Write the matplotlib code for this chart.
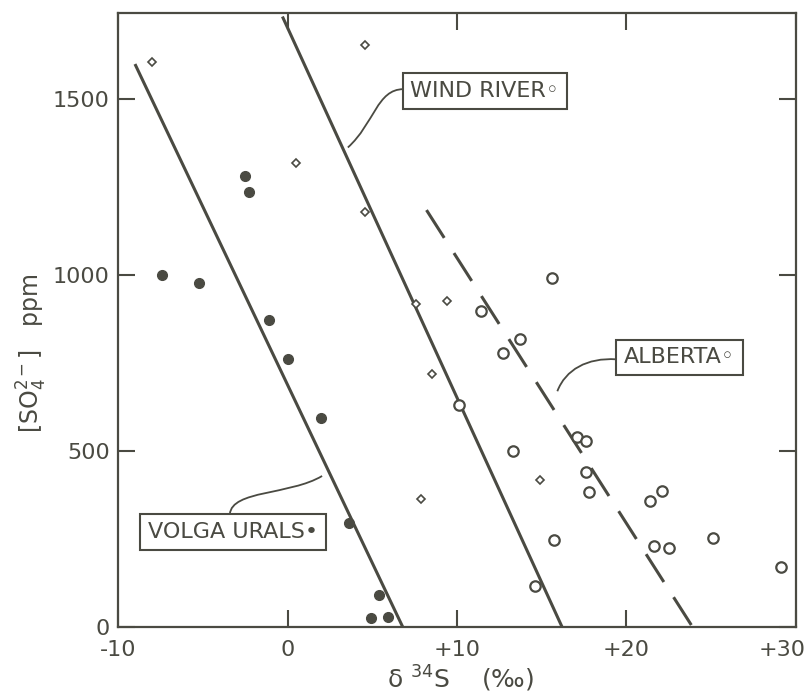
import numpy as np
import matplotlib
matplotlib.use('Agg')
import matplotlib.pyplot as plt
from matplotlib.path import Path
from matplotlib.patches import PathPatch
from matplotlib.transforms import ScaledTranslation

INK = '#4a4a42'

# Volga Urals (filled circles)
volga_d34s = [-2.5, -2.3, -7.4, -5.2, -1.1, 0.0, 2.0, 3.6, 5.4, 4.9, 5.9]
volga_so4 = [1282, 1236, 1000, 977, 872, 763, 595, 296, 91, 26, 28]

# Wind River (small open diamonds)
wind_d34s = [-8.0, 4.6, 0.5, 4.6, 7.6, 9.4, 8.5, 7.9, 14.9]
wind_so4 = [1607, 1655, 1319, 1179, 917, 926, 720, 364, 419]

# Alberta (open circles)
alberta_d34s = [15.6, 11.4, 13.7, 12.7, 10.1, 13.3, 17.1, 17.6, 17.6, 17.8,
                21.4, 22.1, 15.7, 21.6, 22.5, 25.1, 29.1, 14.6]
alberta_so4 = [991, 898, 818, 780, 632, 501, 541, 530, 441, 385,
               359, 387, 248, 231, 225, 254, 171, 117]

# trend lines, (d34S, SO4) end points
volga_fit = ([-9.0, 6.8], [1600, 0])
wind_fit = ([-0.3, 16.2], [1735, 0])
alberta_fit = ([8.2, 23.9], [1185, 0])

xticks = [-10, 0, 10, 20, 30]
xticklabels = ['-10', '0', '+10', '+20', '+30']
yticks = [0, 500, 1000, 1500]


def leader(ax, pts):
	verts = [ax.transData.inverted().transform(ax.transAxes.transform(p)) for p in pts]
	path = Path(verts, [Path.MOVETO, Path.CURVE4, Path.CURVE4, Path.CURVE4])
	ax.add_patch(PathPatch(path, fc='none', ec=INK, lw=1.3))


plt.rcParams['font.family'] = 'DejaVu Sans'
fig = plt.figure(figsize=(8.1, 6.93), dpi=100)
ax = fig.add_axes([0.1457, 0.0952, 0.8370, 0.8860])

ax.plot(*volga_fit, color=INK, lw=2.2, solid_capstyle='butt')
ax.plot(*wind_fit, color=INK, lw=2.2, solid_capstyle='butt')
ax.plot(*alberta_fit, color=INK, lw=2.2, linestyle=(0, (10.8, 5.9)), dash_capstyle='butt')

ax.plot(volga_d34s, volga_so4, 'o', ms=7, color=INK, mec=INK)
ax.plot(wind_d34s, wind_so4, 'D', ms=4.5, mfc='white', mec=INK, mew=1.2)
ax.plot(alberta_d34s, alberta_so4, 'o', ms=7.5, mfc='white', mec=INK, mew=1.6)

ax.set_xlim(-10, 30)
ax.set_ylim(0, 1745)
ax.set_xticks(xticks)
ax.set_xticklabels(xticklabels)
ax.set_yticks(yticks)
ax.tick_params(direction='in', length=12, width=1.5, color=INK, labelcolor=INK,
	labelsize=16, top=True, right=True, pad=6)
ax.tick_params(axis='x', pad=9)
for s in ax.spines.values():
	s.set_color(INK)
	s.set_linewidth(1.6)

# last x label sits left of the corner
last = ax.get_xticklabels()[-1]
last.set_transform(last.get_transform() + ScaledTranslation(-14 / 100, 0, fig.dpi_scale_trans))

box = dict(boxstyle='square,pad=0.35', fc='white', ec=INK, lw=1.5)
ax.text(0.541, 0.873, 'WIND RIVER\u25e6', transform=ax.transAxes, ha='center', va='center',
	fontsize=16, color=INK, bbox=box)
ax.text(0.828, 0.439, 'ALBERTA\u25e6', transform=ax.transAxes, ha='center', va='center',
	fontsize=16, color=INK, bbox=box)
ax.text(0.170, 0.155, 'VOLGA URALS\u2022', transform=ax.transAxes, ha='center', va='center',
	fontsize=16, color=INK, bbox=box)

# leader curves, in axes fraction
leader(ax, [(0.421, 0.876), (0.382, 0.876), (0.378, 0.820), (0.339, 0.781)])
leader(ax, [(0.735, 0.436), (0.692, 0.439), (0.660, 0.419), (0.648, 0.384)])
leader(ax, [(0.165, 0.184), (0.168, 0.223), (0.254, 0.215), (0.301, 0.246)])

fig.text(0.568, 0.021, '\u03b4 $^{34}$S    (‰)', ha='center', va='center', fontsize=18, color=INK)
fig.text(0.040, 0.49, r'[SO$_4^{2-}$]   ppm', rotation=90, ha='center', va='center',
	fontsize=17, color=INK)

plt.savefig('out.png', dpi=100, facecolor='white')
